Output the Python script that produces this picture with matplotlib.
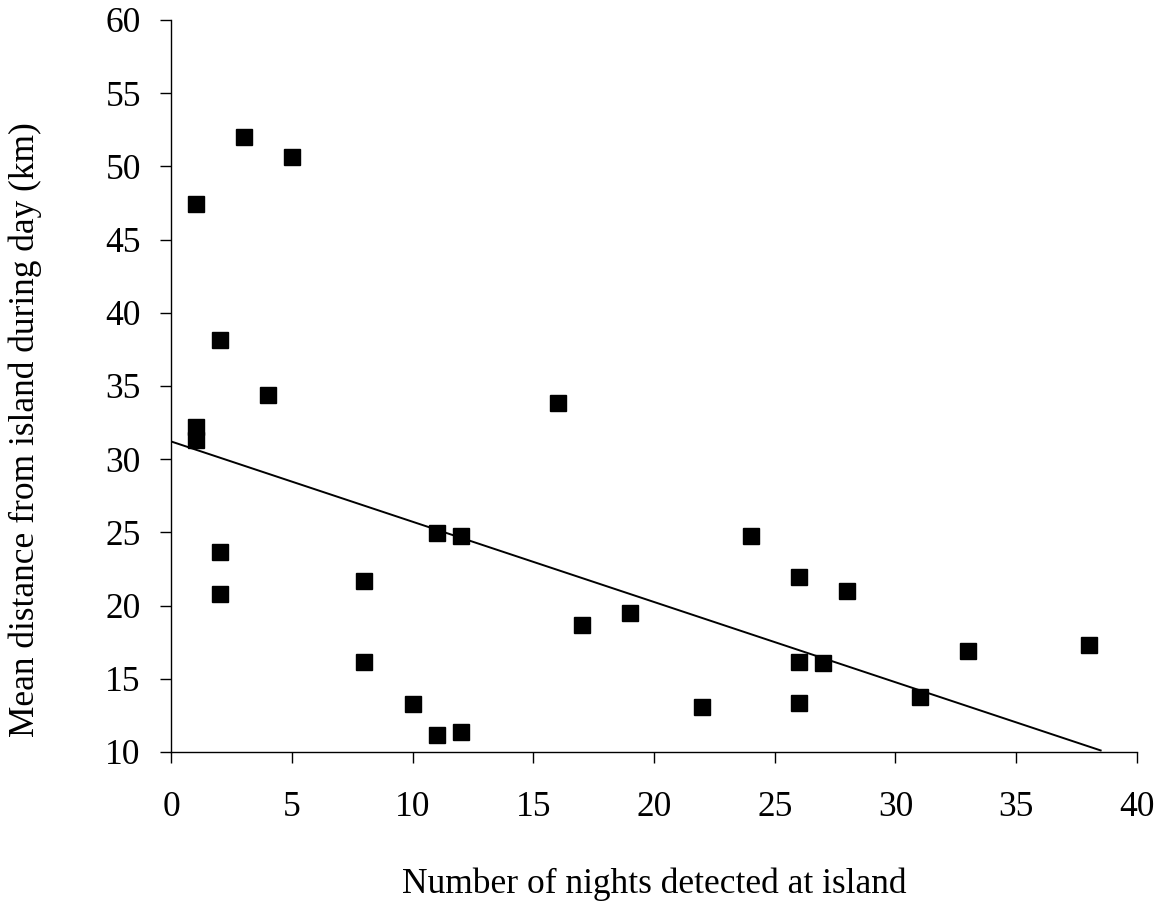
import matplotlib
matplotlib.use("Agg")
import matplotlib.pyplot as plt

nights = [1, 1, 1, 2, 2, 2, 3, 4, 5, 8, 8, 10, 11, 11, 12, 12,
          16, 17, 19, 22, 24, 26, 26, 26, 27, 28, 31, 33, 38]
distance = [47.45, 32.2, 31.3, 38.16, 23.64, 20.77, 52.0, 34.36, 50.66,
            21.68, 16.13, 13.28, 11.16, 24.98, 11.39, 24.78,
            33.86, 18.67, 19.47, 13.1, 24.78, 21.97, 16.17, 13.37,
            16.08, 20.97, 13.78, 16.88, 17.29]
trend_x = [0, 38.5]
trend_y = [31.2, 10.1]
x_ticks = [0, 5, 10, 15, 20, 25, 30, 35, 40]
y_ticks = [10, 15, 20, 25, 30, 35, 40, 45, 50, 55, 60]

plt.rcParams['font.family'] = ['Liberation Serif', 'DejaVu Serif']

fig = plt.figure(figsize=(11.66, 9.07), dpi=100)
ax = fig.add_axes([0.147, 0.171, 0.828, 0.807])

ax.plot(trend_x, trend_y, color='black', lw=1.4, zorder=2)
ax.plot(nights, distance, linestyle='none', marker='s', markersize=11.5,
        color='black', zorder=3)

ax.set_xlim(0, 40)
ax.set_ylim(10, 60)
ax.set_xticks(x_ticks)
ax.set_yticks(y_ticks)
ax.tick_params(direction='out', length=8, width=1, labelsize=25.5, colors='black')
ax.tick_params(axis='x', pad=20)
ax.tick_params(axis='y', pad=14)
for s in ['top', 'right']:
    ax.spines[s].set_visible(False)
for s in ['left', 'bottom']:
    ax.spines[s].set_linewidth(1)
    ax.spines[s].set_color('black')

ax.set_xlabel('Number of nights detected at island', fontsize=25.5)
ax.set_ylabel('Mean distance from island during day (km)', fontsize=25.5)
ax.xaxis.set_label_coords(0.5, -0.158)
ax.yaxis.set_label_coords(-0.134, 0.44)

fig.savefig('out.png', dpi=100)
